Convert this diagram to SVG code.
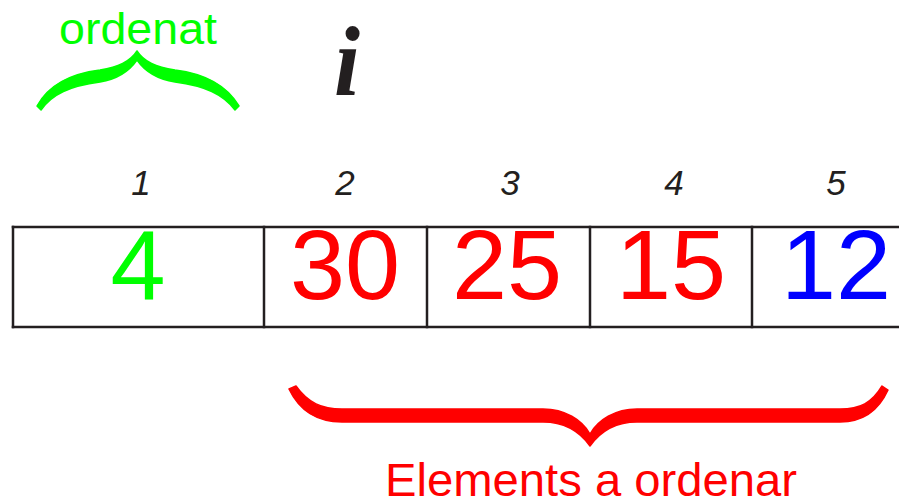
<svg xmlns="http://www.w3.org/2000/svg" width="899" height="500" viewBox="0 0 899 500">
<style>
.line{stroke:#231f20;stroke-width:2.5;fill:none;stroke-linecap:square}
.idx{font-family:"Liberation Sans",Arial,sans-serif;font-style:italic;font-size:35px;fill:#231f20;text-anchor:middle}
.val{font-family:"Liberation Sans",Arial,sans-serif;font-size:99px;text-anchor:middle}
.lbl{font-family:"Liberation Sans",Arial,sans-serif;text-anchor:middle}
</style>
<rect width="899" height="500" fill="#ffffff"/>
<g id="table">
<line class="line" x1="13" y1="227" x2="905" y2="227"/>
<line class="line" x1="13" y1="327" x2="905" y2="327"/>
<line class="line" x1="13" y1="227" x2="13" y2="327"/>
<line class="line" x1="264" y1="227" x2="264" y2="327"/>
<line class="line" x1="427" y1="227" x2="427" y2="327"/>
<line class="line" x1="590" y1="227" x2="590" y2="327"/>
<line class="line" x1="752" y1="227" x2="752" y2="327"/>
</g>
<g id="cell1"><text class="idx" x="141" y="195">1</text><text class="val" x="138" y="299" fill="#00ff00">4</text></g>
<g id="cell2"><text class="idx" x="345" y="195">2</text><text class="val" x="345" y="299" fill="#ff0000">30</text></g>
<g id="cell3"><text class="idx" x="510" y="195">3</text><text class="val" x="507" y="299" fill="#ff0000">25</text></g>
<g id="cell4"><text class="idx" x="674" y="195">4</text><text class="val" x="671" y="299" fill="#ff0000">15</text></g>
<g id="cell5"><text class="idx" x="836" y="195">5</text><text class="val" x="836" y="299" fill="#0000ff">12</text></g>
<g id="pointer-i"><text x="347" y="95" font-family="'Liberation Serif','Times New Roman',serif" font-style="italic" font-weight="bold" font-size="100" text-anchor="middle" fill="#231f20" textLength="26" lengthAdjust="spacingAndGlyphs">i</text></g>
<g id="sorted">
<text class="lbl" x="138" y="44" font-size="44" fill="#00ff00" textLength="158" lengthAdjust="spacingAndGlyphs">ordenat</text>
<path fill="#00ff00" stroke="#00ff00" stroke-width="1.5" stroke-linejoin="round" d="M 37,106 C 48,86 68,74 100,70 C 118,67 130,62 137,51 C 144,62 156,67 175,70 C 207,74 227,86 239,106 L 235,110 C 223,94 205,86 175,82 C 156,79 144,70 137,60 C 130,70 118,79 100,82 C 70,86 52,94 41,110 Z"/>
</g>
<g id="unsorted">
<path fill="#ff0000" stroke="#ff0000" stroke-width="1.5" stroke-linejoin="round" d="M 289,389 C 300,412 318,422 342,422 L 543,422 C 565,422 580,432 590,446 C 600,432 615,422 637,422 L 840,422 C 862,422 878,412 888,390 L 882,386 C 872,403 860,409 840,409 L 637,409 C 615,409 598,420 590,434 C 582,420 565,409 543,409 L 342,409 C 322,409 308,403 296,386 Z"/>
<text class="lbl" x="591" y="496" font-size="47" fill="#ff0000" textLength="412" lengthAdjust="spacingAndGlyphs">Elements a ordenar</text>
</g>
</svg>
